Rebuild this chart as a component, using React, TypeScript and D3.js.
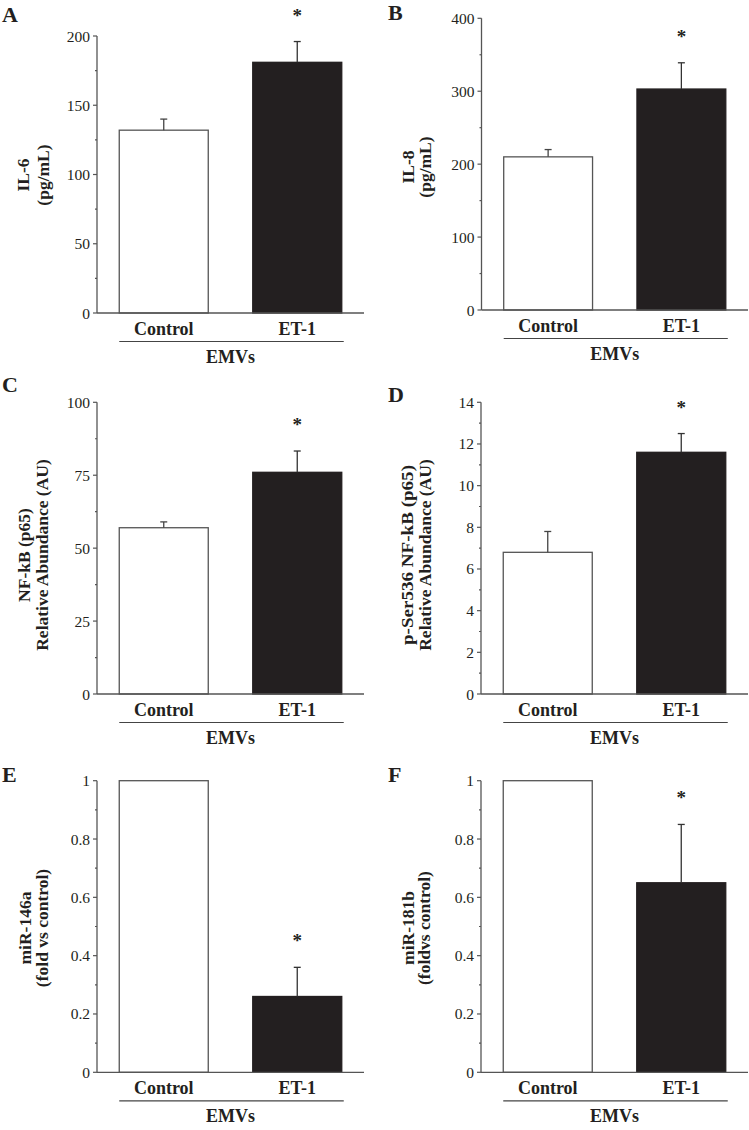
import React from "react";
import * as d3 from "d3";

const categories = ["Control", "ET-1"];
const groupLabel = "EMVs";

const il6Means = [132, 181];
const il6Errors = [8, 15];
const il6Ticks = [0, 50, 100, 150, 200];
const il6Minor = [25, 75, 125, 175];

const il8Means = [210, 303];
const il8Errors = [10, 36];
const il8Ticks = [0, 100, 200, 300, 400];
const il8Minor = [50, 150, 250, 350];

const nfkbMeans = [57, 76];
const nfkbErrors = [2, 7.3];
const nfkbTicks = [0, 25, 50, 75, 100];
const nfkbMinor = [12.5, 37.5, 62.5, 87.5];

const pserMeans = [6.8, 11.6];
const pserErrors = [1.0, 0.9];
const pserTicks = [0, 2, 4, 6, 8, 10, 12, 14];
const pserMinor = [1, 3, 5, 7, 9, 11, 13];

const mir146aMeans = [1, 0.26];
const mir146aErrors = [0, 0.1];
const mirTicks = [0, 0.2, 0.4, 0.6, 0.8, 1];
const mirMinor = [0.1, 0.3, 0.5, 0.7, 0.9];

const mir181bMeans = [1, 0.65];
const mir181bErrors = [0, 0.2];

const significant = [false, true];

type Panel = {
  letter: string;
  means: number[];
  errors: number[];
  ticks: number[];
  minor: number[];
  max: number;
  ylabel: string[];
  ylabelLen?: (number | undefined)[];
  x0: number;
  x1: number;
  yTop: number;
  yZero: number;
  letterX: number;
  letterY: number;
  labelX: number[];
  labelY: number;
};

const panels: Panel[] = [
  { letter: "A", means: il6Means, errors: il6Errors, ticks: il6Ticks, minor: il6Minor, max: 200,
    ylabel: ["IL-6", "(pg/mL)"], x0: 97, x1: 364, yTop: 36, yZero: 313,
    letterX: 2, letterY: 22, labelX: [23, 42.5], labelY: 175 },
  { letter: "B", means: il8Means, errors: il8Errors, ticks: il8Ticks, minor: il8Minor, max: 400,
    ylabel: ["IL-8", "(pg/mL)"], x0: 481.5, x1: 748, yTop: 18.3, yZero: 310,
    letterX: 388, letterY: 20, labelX: [408, 425], labelY: 167 },
  { letter: "C", means: nfkbMeans, errors: nfkbErrors, ticks: nfkbTicks, minor: nfkbMinor, max: 100,
    ylabel: ["NF-kB (p65)", "Relative Abundance (AU)"], x0: 97, x1: 364, yTop: 402.3, yZero: 694,
    letterX: 2, letterY: 392, labelX: [24, 42], labelY: 555 },
  { letter: "D", means: pserMeans, errors: pserErrors, ticks: pserTicks, minor: pserMinor, max: 14,
    ylabel: ["p-Ser536 NF-kB (p65)", "Relative Abundance (AU)"], ylabelLen: [180, undefined],
    x0: 481, x1: 748, yTop: 402.3, yZero: 694,
    letterX: 388, letterY: 402, labelX: [407, 425], labelY: 555 },
  { letter: "E", means: mir146aMeans, errors: mir146aErrors, ticks: mirTicks, minor: mirMinor, max: 1,
    ylabel: ["miR-146a", "(fold vs control)"], x0: 97, x1: 364, yTop: 780.7, yZero: 1072.3,
    letterX: 2, letterY: 782, labelX: [25, 42], labelY: 928 },
  { letter: "F", means: mir181bMeans, errors: mir181bErrors, ticks: mirTicks, minor: mirMinor, max: 1,
    ylabel: ["miR-181b", "(foldvs control)"], x0: 481, x1: 748, yTop: 780.7, yZero: 1072.3,
    letterX: 388, letterY: 782, labelX: [408, 424], labelY: 928 },
];

const FONT = "'Liberation Serif', 'Times New Roman', Times, serif";
const INK = "#231f20";
const AXIS = "#555";

function PanelChart({ p }: { p: Panel }) {
  const x = d3.scaleBand<string>().domain(categories).range([p.x0, p.x1]).paddingInner(1 / 3).paddingOuter(1 / 6);
  const y = d3.scaleLinear().domain([0, p.max]).range([p.yZero, p.yTop]);
  const bw = x.bandwidth();
  const fmt = (v: number) => (p.max <= 1 ? d3.format("~g")(v) : String(v));
  const first = x(categories[0])!;
  const last = x(categories[categories.length - 1])! + bw;
  return (
    <g>
      <text x={p.letterX} y={p.letterY} fontFamily={FONT} fontWeight="bold" fontSize={22} fill={INK}>{p.letter}</text>
      {p.ylabel.map((t, i) => {
        const len = p.ylabelLen ? p.ylabelLen[i] : undefined;
        return (
          <text key={i} transform={`translate(${p.labelX[i]},${p.labelY}) rotate(-90)`} textAnchor="middle"
            dominantBaseline="central" fontFamily={FONT} fontWeight="bold" fontSize={17.5} fill={INK}
            {...(len ? { textLength: len, lengthAdjust: "spacingAndGlyphs" } : {})}>{t}</text>
        );
      })}
      {categories.map((c, i) => {
        const bx = x(c)!;
        const top = y(p.means[i]);
        const dark = i === 1;
        const eTop = y(p.means[i] + p.errors[i]);
        const cx = bx + bw / 2;
        return (
          <g key={c}>
            <rect x={bx} y={top} width={bw} height={p.yZero - top}
              fill={dark ? INK : "#fff"} stroke={dark ? INK : AXIS} strokeWidth={1.3} />
            {p.errors[i] > 0 && (
              <g stroke={dark ? "#333" : "#444"} strokeWidth={1.3}>
                <line x1={cx} x2={cx} y1={top} y2={eTop} />
                <line x1={cx - 3.5} x2={cx + 3.5} y1={eTop} y2={eTop} />
              </g>
            )}
            {significant[i] && (
              <text x={cx} y={eTop - 29.5 + 9.5} textAnchor="middle" fontFamily={FONT} fontWeight="bold"
                fontSize={19} fill={INK}>*</text>
            )}
            <text x={cx} y={p.yZero + 22} textAnchor="middle" fontFamily={FONT} fontWeight="bold"
              fontSize={18} fill={INK}>{c}</text>
          </g>
        );
      })}
      <line x1={p.x0} x2={p.x0} y1={p.yZero} y2={y(p.max)} stroke={AXIS} strokeWidth={1.3} />
      <line x1={p.x0} x2={p.x1} y1={p.yZero} y2={p.yZero} stroke={AXIS} strokeWidth={1.3} />
      {p.ticks.map((t) => (
        <g key={t}>
          <line x1={p.x0 - 4} x2={p.x0} y1={y(t)} y2={y(t)} stroke={AXIS} strokeWidth={1.2} />
          <text x={p.x0 - 7} y={y(t)} textAnchor="end" dominantBaseline="central" fontFamily={FONT}
            fontSize={15.5} fill={INK}>{fmt(t)}</text>
        </g>
      ))}
      {p.minor.map((t) => (
        <line key={t} x1={p.x0 - 2} x2={p.x0} y1={y(t)} y2={y(t)} stroke={AXIS} strokeWidth={1.2} />
      ))}
      <line x1={first} x2={last + 2} y1={p.yZero + 28.5} y2={p.yZero + 28.5} stroke="#444" strokeWidth={1.2} />
      <text x={(first + last) / 2} y={p.yZero + 50} textAnchor="middle" fontFamily={FONT} fontWeight="bold"
        fontSize={18} fill={INK}>{groupLabel}</text>
    </g>
  );
}

export default function App() {
  return (
    <svg width={749} height={1130} style={{ position: "absolute", left: 0, top: 0, background: "#fff" }}>
      <rect x={0} y={0} width={749} height={1130} fill="#fff" />
      {panels.map((p) => (
        <PanelChart key={p.letter} p={p} />
      ))}
    </svg>
  );
}
